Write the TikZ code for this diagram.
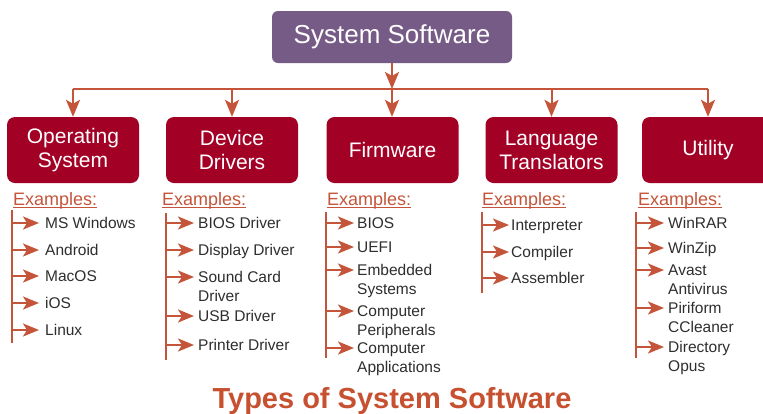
\documentclass[tikz,border=0pt]{standalone}
\usepackage{fontspec}
\setmainfont{Liberation Sans}
\usetikzlibrary{arrows.meta,calc}
\definecolor{linkc}{HTML}{C4553A}
\definecolor{topc}{HTML}{775B87}
\definecolor{boxc}{HTML}{A30026}
\definecolor{itemc}{HTML}{2E2E2E}
\definecolor{titlec}{HTML}{C6502F}
\begin{document}
\begin{tikzpicture}[x=1pt,y=-1pt,
  topbox/.style={fill=topc, rounded corners=6pt, minimum width=240pt, minimum height=52pt, text=white, font=\fontsize{26}{30}\selectfont, inner sep=0pt},
  catbox/.style={fill=boxc, rounded corners=8pt, minimum width=132pt, minimum height=66pt, text=white, font=\fontsize{21}{24}\selectfont, align=center, inner sep=0pt},
  link/.style={draw=linkc, line width=2pt},
  arr/.style={link, -{Stealth[length=17pt,width=14pt,inset=4pt]}},
  larr/.style={link, -{Stealth[length=16pt,width=13pt,inset=4pt]}},
  spine/.style={link},
  ul/.style={draw=linkc, line width=1pt},
  exlabel/.style={text=linkc, font=\fontsize{18}{20}\selectfont, inner sep=0pt, anchor=base west},
  item/.style={text=itemc, font=\fontsize{15.5}{19}\selectfont, align=left, inner sep=0pt, anchor=north west},
  titlestyle/.style={text=titlec, font=\fontsize{29}{32}\selectfont\bfseries, inner sep=0pt, anchor=base}]
\useasboundingbox (0,0) rectangle (763,413);
\clip (0,0) rectangle (763,413);
\fill[white] (0,0) rectangle (763,413);

% top and category boxes
\node[topbox] (top) at (392,37) {System Software};
\node[catbox] (os) at (73,150) {Operating\\System};
\node[catbox] (dd) at (232,150) {Device\\Drivers};
\node[catbox] (fw) at (392.5,150) {Firmware};
\node[catbox] (lt) at (551.5,150) {Language\\Translators};
\node[catbox] (ut) at (708,150) {Utility};

% bus
\coordinate (b1) at (73,89);
\coordinate (b2) at (232,89);
\coordinate (b3) at (392,89);
\coordinate (b4) at (551.5,89);
\coordinate (b5) at (708,89);
\draw[link] (b1) -- (b5);
\draw[arr] (top.south -| b3) -- (b3);
\foreach \n/\b in {os/b1,dd/b2,fw/b3,lt/b4,ut/b5}
  \draw[arr] (\b) -- (\b |- \n.north);

% Operating System
\node[exlabel] (exos) at (13,205) {Examples:};
\draw[ul] ($(exos.base west)+(0,2.5)$) -- ($(exos.base east)+(0,2.5)$);
\coordinate (sos1) at (12,210); \coordinate (sos2) at (12,343);
\draw[spine] (sos1) -- (sos2);
\foreach \y/\t [count=\i] in {223/MS Windows, 250/Android, 276/MacOS, 303/iOS, 330/Linux}{
  \node[item] (os\i) at (45,\y-5.5) {\t};
  \coordinate (ost\i) at (39,\y);
  \draw[larr] (sos1 |- ost\i) -- (ost\i);
}

% Device Drivers
\node[exlabel] (exdd) at (162,205) {Examples:};
\draw[ul] ($(exdd.base west)+(0,2.5)$) -- ($(exdd.base east)+(0,2.5)$);
\coordinate (sdd1) at (166,213); \coordinate (sdd2) at (166,360);
\draw[spine] (sdd1) -- (sdd2);
\foreach \y/\t [count=\i] in {223/BIOS Driver, 250/Display Driver, 277/{Sound Card\\Driver}, 316/USB Driver, 345/Printer Driver}{
  \node[item] (dd\i) at (198,\y-5.5) {\t};
  \coordinate (ddt\i) at (194,\y);
  \draw[larr] (sdd1 |- ddt\i) -- (ddt\i);
}

% Firmware
\node[exlabel] (exfw) at (327,205) {Examples:};
\draw[ul] ($(exfw.base west)+(0,2.5)$) -- ($(exfw.base east)+(0,2.5)$);
\coordinate (sfw1) at (326,212); \coordinate (sfw2) at (326,358);
\draw[spine] (sfw1) -- (sfw2);
\foreach \y/\t [count=\i] in {223/BIOS, 247/UEFI, 270/{Embedded\\Systems}, 311/{Computer\\Peripherals}, 348/{Computer\\Applications}}{
  \node[item] (fw\i) at (357,\y-5.5) {\t};
  \coordinate (fwt\i) at (354,\y);
  \draw[larr] (sfw1 |- fwt\i) -- (fwt\i);
}

% Language Translators
\node[exlabel] (exlt) at (482,205) {Examples:};
\draw[ul] ($(exlt.base west)+(0,2.5)$) -- ($(exlt.base east)+(0,2.5)$);
\coordinate (slt1) at (482,212); \coordinate (slt2) at (482,293);
\draw[spine] (slt1) -- (slt2);
\foreach \y/\t [count=\i] in {225/Interpreter, 252/Compiler, 278/Assembler}{
  \node[item] (lt\i) at (511,\y-5.5) {\t};
  \coordinate (ltt\i) at (509,\y);
  \draw[larr] (slt1 |- ltt\i) -- (ltt\i);
}

% Utility
\node[exlabel] (exut) at (638,205) {Examples:};
\draw[ul] ($(exut.base west)+(0,2.5)$) -- ($(exut.base east)+(0,2.5)$);
\coordinate (sut1) at (636,212); \coordinate (sut2) at (636,358);
\draw[spine] (sut1) -- (sut2);
\foreach \y/\t [count=\i] in {223/WinRAR, 248/WinZip, 270/{Avast\\Antivirus}, 308/{Piriform\\CCleaner}, 347/{Directory\\Opus}}{
  \node[item] (ut\i) at (668,\y-5.5) {\t};
  \coordinate (utt\i) at (664,\y);
  \draw[larr] (sut1 |- utt\i) -- (utt\i);
}

% title
\node[titlestyle] (ttl) at (392,408) {Types of System Software};
\end{tikzpicture}
\end{document}
